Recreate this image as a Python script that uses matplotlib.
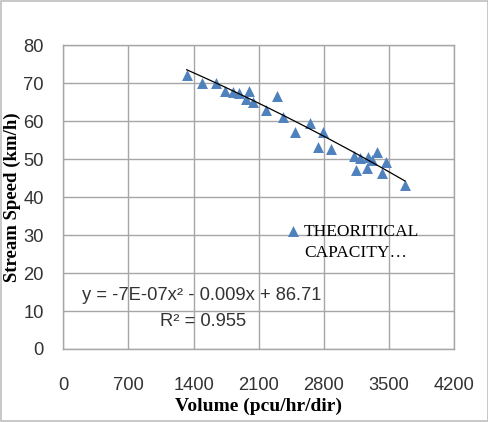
import matplotlib.pyplot as plt
import numpy as np
from matplotlib.lines import Line2D
from matplotlib.patches import Rectangle

volume = [1325, 1487, 1640, 1737, 1820, 1887, 1995, 1963, 2035, 2292, 2181, 2363,
          2489, 2650, 2793, 2739, 2872, 3126, 3187, 3276, 3313, 3373, 3466,
          3141, 3259, 3420, 3670]
speed = [72.2, 70.1, 70.0, 68.0, 67.8, 67.4, 68.0, 65.8, 65.0, 66.6, 63.0, 61.2,
         57.1, 59.5, 57.1, 53.3, 52.6, 50.9, 50.2, 50.5, 49.8, 52.0, 49.2,
         47.2, 47.8, 46.3, 43.2]

# polynomial trendline shown on the chart
coef = [-7e-07, -0.009, 86.71]
eq_text = 'y = -7E-07x² - 0.009x + 86.71'
r2_text = 'R² = 0.955'

xticks = [0, 700, 1400, 2100, 2800, 3500, 4200]
yticks = [0, 10, 20, 30, 40, 50, 60, 70, 80]

SANS = 'Liberation Sans'
SERIF = 'Liberation Serif'
GRID = '#a6a6a6'

fig = plt.figure(figsize=(4.89, 4.22), dpi=100)
fig.patches.append(Rectangle((0.002, 0.002), 0.996, 0.996, transform=fig.transFigure,
                             fill=False, edgecolor='#bfbfbf', linewidth=1.2))
ax = fig.add_axes([0.1295, 0.173, 0.7996, 0.7197])

sc = ax.scatter(volume, speed, marker='^', s=62, color='#4f81bd', zorder=3, linewidths=0)

xs = np.linspace(min(volume), max(volume), 100)
ax.plot(xs, np.polyval(coef, xs), color='black', linewidth=0.9, zorder=4)

ax.set_xlim(0, 4200)
ax.set_ylim(0, 80)
ax.set_xticks(xticks)
ax.set_yticks(yticks)
ax.grid(True, color=GRID, linewidth=1.0)
ax.set_axisbelow(True)
for s in ax.spines.values():
    s.set_color(GRID)
    s.set_linewidth(1.0)
ax.tick_params(length=0, labelsize=13.2)
ax.tick_params(axis='y', pad=14)
ax.tick_params(axis='x', pad=20)
for lab in ax.get_xticklabels() + ax.get_yticklabels():
    lab.set_family(SANS)
    lab.set_color('#333333')

ax.set_xlabel('Volume (pcu/hr/dir)', family=SERIF, fontweight='bold', fontsize=14, labelpad=3)
ax.set_ylabel('Stream Speed (km/h)', family=SERIF, fontweight='bold', fontsize=13.5)
ax.yaxis.set_label_coords(-0.108, 0.5)

ax.text(1485, 14.1, eq_text, family=SANS, fontsize=13.2, ha='center', va='center', color='#333333')
ax.text(1500, 7.3, r2_text, family=SANS, fontsize=13.2, ha='center', va='center', color='#333333')

# legend: marker sits beside the first line of the wrapped series name
blank = Line2D([], [], linestyle='none')
ax.legend([sc, blank], ['THEORITICAL', 'CAPACITY…'], loc='upper left',
          bbox_to_anchor=(0.575, 0.412), frameon=False,
          prop={'family': SERIF, 'size': 12.5}, handletextpad=0.3,
          handlelength=0.6, borderaxespad=0, borderpad=0, labelspacing=0.28)

fig.savefig('out.png', dpi=100)
